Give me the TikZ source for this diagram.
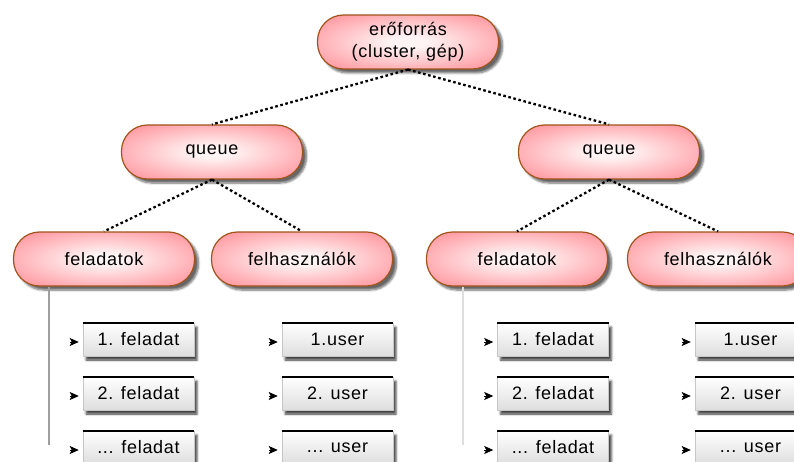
\documentclass[tikz,border=0pt]{standalone}
\usepackage{fontspec}
\setmainfont{Liberation Sans}[LetterSpace=4]
\usetikzlibrary{shadows.blur,arrows.meta}

\definecolor{pilledge}{RGB}{160,84,28}
\definecolor{pillout}{RGB}{255,104,116}
\definecolor{pillin}{RGB}{255,244,244}
\definecolor{boxbot}{RGB}{222,222,222}

\pgfdeclareradialshading{pillglow}{\pgfpoint{0bp}{0bp}}{%
  color(0bp)=(pillin); color(5bp)=(pillin); color(46bp)=(pillout); color(100bp)=(pillout)}

\tikzset{
  pill/.style={draw=pilledge, line width=1.2pt, shading=pillglow,
    rounded corners=26pt, minimum width=181pt, minimum height=54pt,
    inner sep=0pt, align=center, font=\fontsize{18}{22}\selectfont,
    blur shadow={shadow xshift=4pt, shadow yshift=-4pt, shadow opacity=60,
      shadow blur steps=6}},
  itembox/.style={draw=gray!45, line width=0.5pt, top color=white, bottom color=boxbot,
    minimum width=111pt, minimum height=33pt, inner sep=0pt,
    font=\fontsize{18}{22}\selectfont,
    blur shadow={shadow xshift=3pt, shadow yshift=-4pt, shadow opacity=75,
      shadow blur steps=3}},
  boxtop/.style={line width=1.8pt, black},
  dotline/.style={line width=2.3pt, dash pattern=on 2.6pt off 2.6pt, black},
  bullet/.style={-{Stealth[length=9pt,width=8pt,inset=2pt]}, line width=0.8pt, black},
  stemdark/.style={line width=2pt, gray!75},
  stemlight/.style={line width=1.3pt, gray!25},
}

\begin{document}
\begin{tikzpicture}[x=1pt, y=-1pt]
\useasboundingbox (0,0) rectangle (794,462);

% hierarchy of rounded nodes
\node[pill] (top) at (408,42) {erőforrás\\(cluster, gép)};
\node[pill] (ql) at (212,152) {queue};
\node[pill] (qr) at (609,152) {queue};
\node[pill] (fl) at (104,259) {feladatok};
\node[pill] (ul) at (302,259) {felhasználók};
\node[pill] (fr) at (517,259) {feladatok};
\node[pill] (ur) at (718,259) {felhasználók};

% dotted links
\draw[dotline] (top.south) -- (ql.north);
\draw[dotline] (top.south) -- (qr.north);
\draw[dotline] (ql.south) -- (fl.north);
\draw[dotline] (ql.south) -- (ul.north);
\draw[dotline] (qr.south) -- (fr.north);
\draw[dotline] (qr.south) -- (ur.north);

% vertical stems under the task nodes
\coordinate (lend) at (49,445);
\coordinate (rend) at (463,445);
\draw[stemdark] (fl.south -| lend) -- (lend);
\draw[stemlight] (fr.south -| rend) -- (rend);

% item boxes
\node[itembox] (fl1) at (138.5,339.5) {1. feladat};
\node[itembox] (fl2) at (138.5,393.5) {2. feladat};
\node[itembox] (fl3) at (138.5,447.5) {... feladat};
\node[itembox] (ul1) at (337.5,339.5) {1.user};
\node[itembox] (ul2) at (337.5,393.5) {2. user};
\node[itembox] (ul3) at (337.5,447.5) {... user};
\node[itembox] (fr1) at (553,339.5) {1. feladat};
\node[itembox] (fr2) at (553,393.5) {2. feladat};
\node[itembox] (fr3) at (553,447.5) {... feladat};
\node[itembox] (ur1) at (750.5,339.5) {1.user};
\node[itembox] (ur2) at (750.5,393.5) {2. user};
\node[itembox] (ur3) at (750.5,447.5) {... user};

\foreach \b in {fl1,fl2,fl3,ul1,ul2,ul3,fr1,fr2,fr3,ur1,ur2,ur3}{
  \draw[boxtop] (\b.north west) -- (\b.north east);
  \draw[bullet] ([xshift=-13pt,yshift=-2.5pt]\b.west) -- ([xshift=-4pt,yshift=-2.5pt]\b.west);
}
\end{tikzpicture}
\end{document}
